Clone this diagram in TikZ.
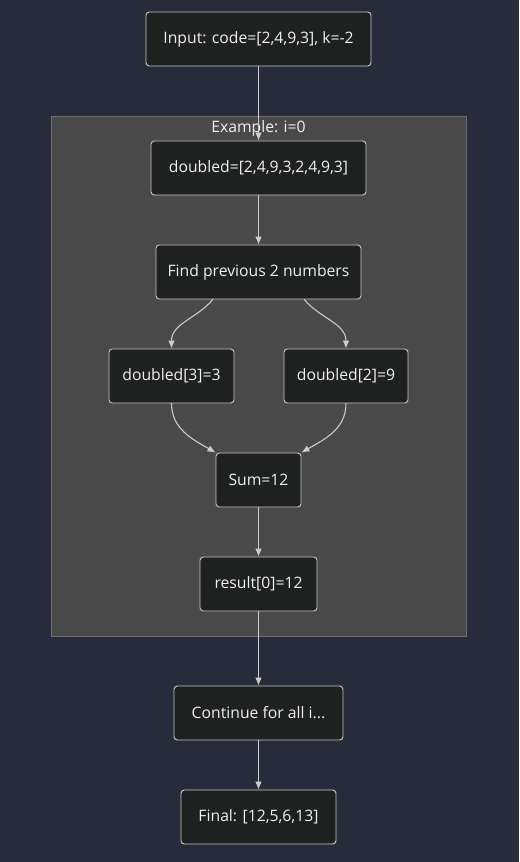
\documentclass[tikz,border=0pt]{standalone}
\usepackage{fontspec}
\setmainfont{Open Sans}
\usetikzlibrary{arrows.meta}
\begin{document}
\begin{tikzpicture}[x=0.75pt, y=-0.75pt, line cap=round, line join=round,
  box/.style={draw=boxline, fill=boxfill, rounded corners=2.5pt, line width=0.7pt,
    minimum height=40.5pt, inner xsep=0pt, text=boxtext, font=\fontsize{11.8}{14}\selectfont},
  edge/.style={draw=edgeline, line width=0.8pt, -{Latex[length=6pt,width=5pt]}}]
  \definecolor{bgnavy}{RGB}{40,44,58}
  \definecolor{clusterfill}{RGB}{73,73,73}
  \definecolor{clusterline}{RGB}{110,110,110}
  \definecolor{boxfill}{RGB}{31,32,32}
  \definecolor{boxline}{RGB}{200,200,200}
  \definecolor{boxtext}{RGB}{240,240,240}
  \definecolor{edgeline}{RGB}{205,205,205}
  % background and page size
  \fill[bgnavy] (0,0) rectangle (519,862);
  \useasboundingbox (0,0) rectangle (519,862);
  % cluster
  \draw[clusterline, fill=clusterfill, line width=0.6pt] (51,116) rectangle (466,636);
  \node[text=boxtext, font=\fontsize{11.8}{14}\selectfont] (exlabel) at (258.5,128) {Example: i=0};
  % nodes
  \node[box, minimum width=168.75pt] (input) at (258.5,39) {Input: code=[2,4,9,3], k=-2};
  \node[box, minimum width=161.25pt] (doubled) at (258.5,168) {doubled=[2,4,9,3,2,4,9,3]};
  \node[box, minimum width=153.75pt] (find) at (258.5,272) {Find previous 2 numbers};
  \node[box, minimum width=93.75pt] (left) at (171.5,376) {doubled[3]=3};
  \node[box, minimum width=93pt] (right) at (346,376) {doubled[2]=9};
  \node[box, minimum width=63.75pt] (sum) at (258.5,480) {Sum=12};
  \node[box, minimum width=87.75pt] (result) at (258.5,584) {result[0]=12};
  \node[box, minimum width=126.75pt] (cont) at (258.5,713) {Continue for all i...};
  \node[box, minimum width=116.25pt] (final) at (258.5,817) {Final: [12,5,6,13]};
  % connectors
  \draw[edge] (input) -- (doubled);
  \draw[edge] (doubled) -- (find);
  \draw[edge] (find.211) to[out=230, in=90] (left.north);
  \draw[edge] (find.329) to[out=-50, in=90] (right.north);
  \draw[edge] (left.south) to[out=-90, in=150] (sum.north west);
  \draw[edge] (right.south) to[out=-90, in=30] (sum.north east);
  \draw[edge] (sum) -- (result);
  \draw[edge] (result) -- (cont);
  \draw[edge] (cont) -- (final);
\end{tikzpicture}
\end{document}
